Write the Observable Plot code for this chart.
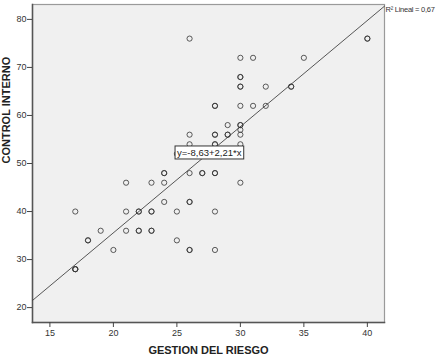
<!DOCTYPE html>
<html>
<head>
<meta charset="utf-8">
<script src="https://cdn.jsdelivr.net/npm/d3@7"></script>
<script src="https://cdn.jsdelivr.net/npm/@observablehq/plot@0.6"></script>
<style>
  html, body { margin: 0; padding: 0; background: white; }
  svg { font-family: "Liberation Sans", Arial, sans-serif; }
  g[aria-description="r2-label"] text { letter-spacing: -0.25px; }
</style>
</head>
<body>
<div id="chart"></div>
<script>
// GESTION DEL RIESGO (x) vs CONTROL INTERNO (y); repeated pairs = overlapping observations
const gestion = [
  26, 30, 31, 35, 40, 40,
  30, 30, 30, 30, 32, 34, 34,
  28, 28, 30, 31, 32,
  29, 30, 30, 30,
  26, 28, 28, 29, 29, 30,
  26, 28, 28, 30,
  25, 30,
  24, 24, 26, 27, 27, 28, 28,
  21, 23, 24, 30,
  24, 26, 26,
  17, 21, 22, 22, 23, 23, 25, 28,
  19, 21, 22, 22, 23, 23,
  18, 18, 25,
  20, 26, 26, 28,
  17, 17, 17
];
const control = [
  76, 72, 72, 72, 76, 76,
  68, 68, 66, 66, 66, 66, 66,
  62, 62, 62, 62, 62,
  58, 58, 58, 57,
  56, 56, 56, 56, 56, 56,
  54, 54, 54, 54,
  52, 52,
  48, 48, 48, 48, 48, 48, 48,
  46, 46, 46, 46,
  42, 42, 42,
  40, 40, 40, 40, 40, 40, 40, 40,
  36, 36, 36, 36, 36, 36,
  34, 34, 34,
  32, 32, 32, 32,
  28, 28, 28
];
const xTicks = [15, 20, 25, 30, 35, 40];
const yTicks = [20, 30, 40, 50, 60, 70, 80];
const intercept = -8.63;
const slope = 2.21;
const eqText = "y=-8,63+2,21*x";
const r2Text = "R\u00B2 Lineal = 0,67";
const xLabel = "GESTION DEL RIESGO";
const yLabel = "CONTROL INTERNO";

const xDomain = [13.63, 41.35];
const yDomain = [16.9, 83.1];
const eqAnchor = [{x: 27.55, y: 52.2}];

const points = gestion.map((g, i) => ({x: g, y: control[i]}));
const fitLine = xDomain.map(x => ({x, y: intercept + slope * x}));

const plot = Plot.plot({
  width: 438,
  height: 361,
  marginLeft: 32,
  marginTop: 4,
  marginRight: 54,
  marginBottom: 39,
  style: {fontFamily: "Liberation Sans, Arial, sans-serif", background: "white"},
  x: {domain: xDomain},
  y: {domain: yDomain},
  marks: [
    Plot.frame({fill: "#f0f0f0", stroke: "#9a9a9a", strokeWidth: 1.2}),
    Plot.frame({anchor: "left", stroke: "#555", strokeWidth: 1.5}),
    Plot.frame({anchor: "bottom", stroke: "#555", strokeWidth: 1.5}),
    Plot.axisX({ticks: xTicks, tickSize: 5, tickPadding: 2, fontSize: 9, fill: "#333", stroke: "#444", label: null}),
    Plot.axisY({ticks: yTicks, tickSize: 5, tickPadding: 1, fontSize: 9, fill: "#333", stroke: "#444", label: null}),
    Plot.line(fitLine, {x: "x", y: "y", stroke: "#444", strokeWidth: 0.9}),
    Plot.dot(points, {x: "x", y: "y", r: 2.6, stroke: "#333", strokeWidth: 0.8, fill: "none"}),
    Plot.text(eqAnchor, {x: "x", y: "y", text: () => eqText, fontSize: 9.5, fill: "#222", ariaDescription: "eq-label"}),
    Plot.text([r2Text], {frameAnchor: "top-right", textAnchor: "start", lineAnchor: "top", dx: 1, dy: 2, fontSize: 7.5, fill: "#333", ariaDescription: "r2-label"}),
    Plot.text([xLabel], {frameAnchor: "bottom", lineAnchor: "middle", dy: 28, fontSize: 11, fontWeight: "bold", fill: "#222"}),
    Plot.text([yLabel], {frameAnchor: "left", rotate: -90, dx: -26, fontSize: 11, fontWeight: "bold", fill: "#222"})
  ]
});
document.getElementById("chart").appendChild(plot);

// white box with dark border behind the equation label
const eqG = plot.querySelector('g[aria-description="eq-label"]');
if (eqG) {
  const t = eqG.querySelector("text");
  const bb = t.getBBox();
  const rect = document.createElementNS("http://www.w3.org/2000/svg", "rect");
  rect.setAttribute("x", bb.x - 2);
  rect.setAttribute("y", bb.y - 1);
  rect.setAttribute("width", bb.width + 4);
  rect.setAttribute("height", bb.height + 2);
  rect.setAttribute("fill", "white");
  rect.setAttribute("stroke", "#333");
  rect.setAttribute("stroke-width", "1");
  const tr = t.getAttribute("transform");
  if (tr) rect.setAttribute("transform", tr);
  eqG.insertBefore(rect, t);
}
</script>
</body>
</html>
